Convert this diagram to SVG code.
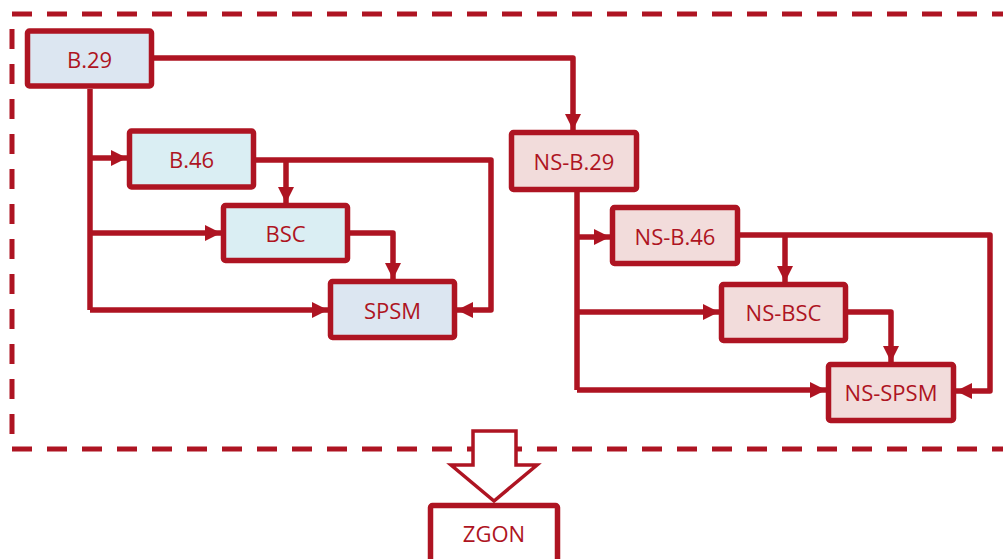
<svg xmlns="http://www.w3.org/2000/svg" width="1003" height="559" viewBox="0 0 1003 559">
<style>
.box{stroke:#AE1422;stroke-width:5.5;stroke-linejoin:round}
.b1{fill:#DCE6F1}.b2{fill:#DAEEF3}.ns{fill:#F2DCDB}.w{fill:#FFFFFF}
.t{font-family:"Open Sans","Liberation Sans",sans-serif;font-size:22px;fill:#AE1422;text-anchor:middle;dominant-baseline:central}
.c{fill:none;stroke:#AE1422;stroke-width:5.5;stroke-linejoin:round}
.a{marker-end:url(#ah)}
</style>
<defs>
<marker id="ah" markerUnits="userSpaceOnUse" markerWidth="18" markerHeight="18" refX="16" refY="8" orient="auto">
<path d="M0,0 L16,8 L0,16 z" fill="#AE1422"/>
</marker>
</defs>
<rect x="12" y="14" width="1000" height="435" fill="none" stroke="#AE1422" stroke-width="5" stroke-dasharray="20 15"/>
<g id="connectors">
<path class="c a" d="M154,58 H573 V130"/>
<path class="c" d="M90,89 V310"/>
<path class="c a" d="M90,158 H127"/>
<path class="c a" d="M90,233 H221"/>
<path class="c a" d="M90,310 H328"/>
<path class="c a" d="M256,160 H491 V310 H457"/>
<path class="c a" d="M286,160 V203"/>
<path class="c a" d="M350,233 H393 V279"/>
<path class="c" d="M577,192 V390"/>
<path class="c a" d="M577,237 H610"/>
<path class="c a" d="M577,312 H719"/>
<path class="c a" d="M577,390 H826"/>
<path class="c a" d="M740,235 H990 V391 H956"/>
<path class="c a" d="M785,235 V282"/>
<path class="c a" d="M848,312 H891 V362"/>
<path d="M473,431 H516 V465 H537 L494,501 L451,465 H473 Z" fill="#FFFFFF" stroke="#AE1422" stroke-width="3.5" stroke-linejoin="miter"/>
</g>
<g id="node-b29"><rect class="box b1" x="27.5" y="31" width="124" height="55" rx="2"/><text class="t" x="89.5" y="59">B.29</text></g>
<g id="node-b46"><rect class="box b2" x="129.5" y="131" width="124" height="56" rx="2"/><text class="t" x="191.5" y="159">B.46</text></g>
<g id="node-bsc"><rect class="box b2" x="223.5" y="205.5" width="124" height="55" rx="2"/><text class="t" x="285.5" y="233">BSC</text></g>
<g id="node-spsm"><rect class="box b1" x="330.5" y="281.5" width="124" height="56" rx="2"/><text class="t" x="392.5" y="310">SPSM</text></g>
<g id="node-nsb29"><rect class="box ns" x="511.5" y="132.5" width="125" height="57" rx="2"/><text class="t" x="574" y="161">NS-B.29</text></g>
<g id="node-nsb46"><rect class="box ns" x="612.5" y="207.5" width="125" height="56" rx="2"/><text class="t" x="675" y="236">NS-B.46</text></g>
<g id="node-nsbsc"><rect class="box ns" x="721.5" y="284.5" width="124" height="56" rx="2"/><text class="t" x="783.5" y="312">NS-BSC</text></g>
<g id="node-nsspsm"><rect class="box ns" x="828.5" y="364.5" width="125" height="56" rx="2"/><text class="t" x="891" y="392">NS-SPSM</text></g>
<g id="node-zgon"><rect class="box w" x="430.5" y="505.5" width="127" height="70" rx="2"/><text class="t" x="494" y="533">ZGON</text></g>
</svg>
